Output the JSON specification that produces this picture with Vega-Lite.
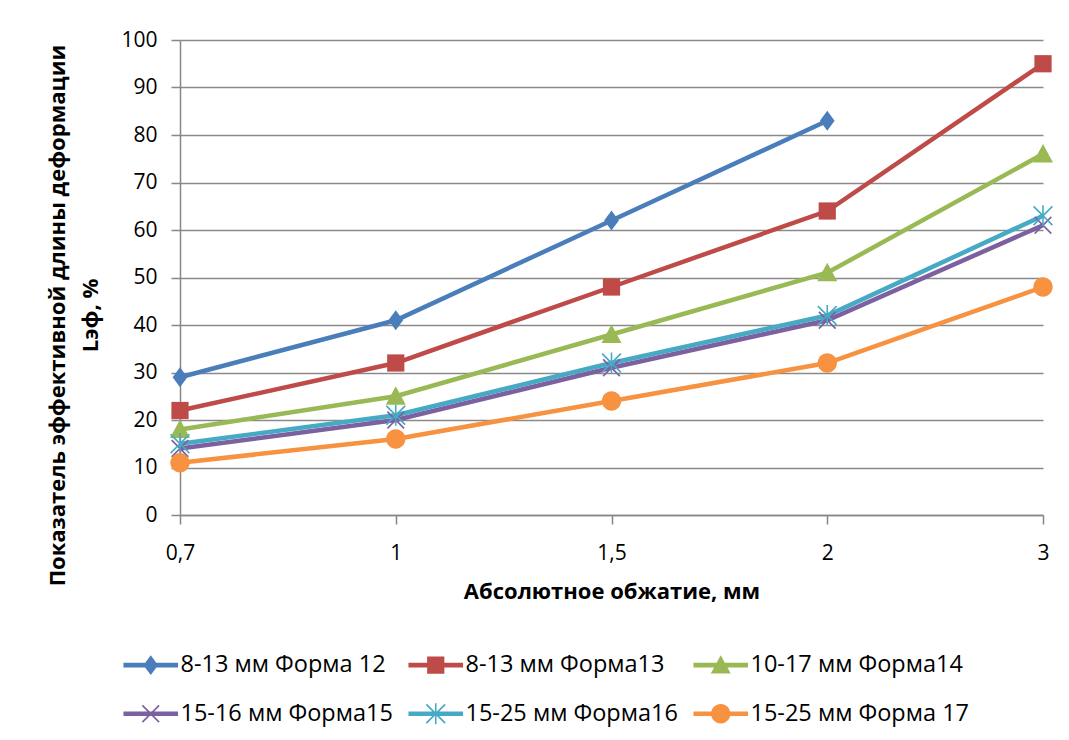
{
  "$schema": "https://vega.github.io/schema/vega-lite/v6.json",
  "width": 863,
  "height": 475,
  "autosize": {"type": "none"},
  "padding": {"left": 180, "top": 40, "right": 26, "bottom": 225},
  "background": "white",
  "config": {
    "font": "Open Sans",
    "view": {"stroke": null},
    "axis": {
      "labelFont": "Open Sans",
      "labelFontSize": 21,
      "labelColor": "#000000",
      "titleFont": "Open Sans",
      "titleFontSize": 22,
      "titleFontWeight": "bold",
      "titleColor": "#000000",
      "domainColor": "#868686",
      "domainWidth": 1.5,
      "tickColor": "#868686",
      "tickWidth": 1.5,
      "tickSize": 9,
      "gridColor": "#8a8a8a",
      "gridWidth": 1.5
    }
  },
  "data": {
    "values": [
      {"x": "0,7", "y": 29, "s": "8-13 мм Форма 12"},
      {"x": "1", "y": 41, "s": "8-13 мм Форма 12"},
      {"x": "1,5", "y": 62, "s": "8-13 мм Форма 12"},
      {"x": "2", "y": 83, "s": "8-13 мм Форма 12"},
      {"x": "0,7", "y": 22, "s": "8-13 мм Форма13"},
      {"x": "1", "y": 32, "s": "8-13 мм Форма13"},
      {"x": "1,5", "y": 48, "s": "8-13 мм Форма13"},
      {"x": "2", "y": 64, "s": "8-13 мм Форма13"},
      {"x": "3", "y": 95, "s": "8-13 мм Форма13"},
      {"x": "0,7", "y": 18, "s": "10-17 мм Форма14"},
      {"x": "1", "y": 25, "s": "10-17 мм Форма14"},
      {"x": "1,5", "y": 38, "s": "10-17 мм Форма14"},
      {"x": "2", "y": 51, "s": "10-17 мм Форма14"},
      {"x": "3", "y": 76, "s": "10-17 мм Форма14"},
      {"x": "0,7", "y": 14, "s": "15-16 мм Форма15"},
      {"x": "1", "y": 20, "s": "15-16 мм Форма15"},
      {"x": "1,5", "y": 31, "s": "15-16 мм Форма15"},
      {"x": "2", "y": 41, "s": "15-16 мм Форма15"},
      {"x": "3", "y": 61, "s": "15-16 мм Форма15"},
      {"x": "0,7", "y": 15, "s": "15-25 мм Форма16"},
      {"x": "1", "y": 21, "s": "15-25 мм Форма16"},
      {"x": "1,5", "y": 32, "s": "15-25 мм Форма16"},
      {"x": "2", "y": 42, "s": "15-25 мм Форма16"},
      {"x": "3", "y": 63, "s": "15-25 мм Форма16"},
      {"x": "0,7", "y": 11, "s": "15-25 мм Форма 17"},
      {"x": "1", "y": 16, "s": "15-25 мм Форма 17"},
      {"x": "1,5", "y": 24, "s": "15-25 мм Форма 17"},
      {"x": "2", "y": 32, "s": "15-25 мм Форма 17"},
      {"x": "3", "y": 48, "s": "15-25 мм Форма 17"}
    ]
  },
  "encoding": {
    "x": {
      "field": "x",
      "type": "ordinal",
      "sort": ["0,7", "1", "1,5", "2", "3"],
      "scale": {"type": "point", "padding": 0},
      "axis": {
        "title": "Абсолютное обжатие, мм",
        "labelAngle": 0,
        "grid": false,
        "labelPadding": 18,
        "titlePadding": 18
      }
    },
    "y": {
      "field": "y",
      "type": "quantitative",
      "scale": {"domain": [0, 100], "nice": false},
      "axis": {
        "title": ["Показатель эффективной длины деформации", "Lэф, %"],
        "values": [0, 10, 20, 30, 40, 50, 60, 70, 80, 90, 100],
        "grid": true,
        "labelPadding": 14,
        "titlePadding": 18,
        "titleLineHeight": 33,
        "titleY": 275
      }
    },
    "color": {
      "field": "s",
      "type": "nominal",
      "scale": {
        "domain": ["8-13 мм Форма 12", "8-13 мм Форма13", "10-17 мм Форма14", "15-16 мм Форма15", "15-25 мм Форма16", "15-25 мм Форма 17"],
        "range": ["#4A7EBB", "#BE4B48", "#98B954", "#7D60A0", "#46AAC5", "#F69240"]
      },
      "legend": {
        "title": null,
        "orient": "none",
        "legendX": -41,
        "legendY": 613,
        "direction": "horizontal",
        "columns": 3,
        "gridAlign": "all",
        "columnPadding": 9,
        "rowPadding": 24,
        "symbolSize": 441,
        "labelOffset": 18,
        "labelFont": "Open Sans",
        "labelFontSize": 23.5,
        "labelColor": "#000000",
        "labelLimit": 340,
        "encoding": {
          "symbols": {
            "shape": {"value": {"expr": "scale('shape', datum.value) + 'M-2.6,-0.22H2.6V0.22H-2.6Z'"}},
            "strokeWidth": {"value": 0},
            "opacity": {"value": 1}
          }
        }
      }
    }
  },
  "layer": [
    {
      "mark": {"type": "line", "strokeWidth": 4.5}
    },
    {
      "mark": {"type": "point", "filled": true, "opacity": 1, "size": 441},
      "encoding": {
        "shape": {
          "field": "s",
          "type": "nominal",
          "sort": null,
          "legend": null,
          "scale": {
            "range": [
              "M0,-0.95L0.7,0L0,0.95L-0.7,0Z",
              "M-0.82,-0.82H0.82V0.82H-0.82Z",
              "M0,-0.95L0.95,0.8H-0.95Z",
              "M-0.85,-0.74L-0.74,-0.85L0.85,0.74L0.74,0.85ZM-0.85,0.74L0.74,-0.85L0.85,-0.74L-0.74,0.85Z",
              "M-0.95,-0.84L-0.84,-0.95L0.95,0.84L0.84,0.95ZM-0.95,0.84L0.84,-0.95L0.95,-0.84L-0.84,0.95ZM-0.075,-1H0.075V1H-0.075Z",
              "M-0.92,0A0.92,0.92,0,1,1,0.92,0A0.92,0.92,0,1,1,-0.92,0Z"
            ]
          }
        }
      }
    }
  ]
}
